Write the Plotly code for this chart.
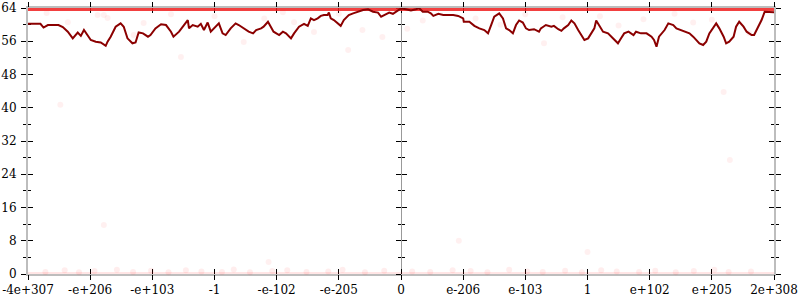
import plotly.graph_objects as go

# ---------------- data ----------------
X_TICKS = [-6, -5, -4, -3, -2, -1, 0, 1, 2, 3, 4, 5, 6]
X_LABELS = ["-4e+307", "-e+206", "-e+103", "-1", "-e-102", "-e-205", "0",
            "e-206", "e-103", "1", "e+102", "e+205", "2e+308"]
Y_TICKS = [0, 8, 16, 24, 32, 40, 48, 56, 64]

LINE_X = [-6.00, -5.80, -5.75, -5.68, -5.51, -5.44, -5.36, -5.28, -5.20, -5.15,
          -5.10, -5.04, -4.99, -4.91, -4.83, -4.75, -4.72, -4.67, -4.59, -4.51,
          -4.46, -4.40, -4.32, -4.27, -4.22, -4.15, -4.07, -4.03, -3.95, -3.86,
          -3.78, -3.70, -3.66, -3.57, -3.49, -3.43, -3.41, -3.35, -3.27, -3.22,
          -3.17, -3.11, -3.06, -2.98, -2.93, -2.87, -2.82, -2.74, -2.66, -2.61,
          -2.53, -2.45, -2.38, -2.33, -2.25, -2.21, -2.14, -2.09, -2.05, -1.96,
          -1.90,
          -1.85, -1.77, -1.72, -1.64, -1.56, -1.50, -1.45, -1.40, -1.34, -1.29,
          -1.24, -1.18, -1.16, -1.13, -1.08, -1.01, -0.97, -0.92, -0.84, -0.77,
          -0.69, -0.61, -0.53, -0.45, -0.37, -0.32, -0.27, -0.19, -0.13, -0.05,
          0.00, 0.08, 0.16, 0.24, 0.29, 0.35, 0.43, 0.48, 0.52, 0.60,
          0.68, 0.76, 0.84, 0.92, 1.00, 1.01, 1.10, 1.18, 1.26, 1.34,
          1.40, 1.45, 1.50, 1.58, 1.64, 1.69, 1.74, 1.80, 1.85, 1.90,
          1.96, 2.01, 2.06, 2.14, 2.22,
          2.25, 2.33, 2.42, 2.46, 2.53, 2.58, 2.62, 2.69, 2.74, 2.79,
          2.85, 2.90, 2.95, 3.01, 3.06, 3.11, 3.14, 3.19, 3.25, 3.33,
          3.38, 3.43, 3.49, 3.54, 3.59, 3.66, 3.74, 3.78, 3.86, 3.95,
          4.03, 4.07, 4.11, 4.15, 4.24, 4.30, 4.38, 4.43, 4.51, 4.59,
          4.64, 4.70, 4.75, 4.80, 4.86, 4.91, 4.96, 5.02, 5.07, 5.12,
          5.19, 5.23, 5.28, 5.35, 5.39, 5.44, 5.51, 5.56, 5.64, 5.68,
          5.75, 5.80, 5.85, 5.91, 6.00]
LINE_Y = [60.2, 60.2, 59.3, 59.9, 59.9, 59.4, 58.3, 56.7, 58.1, 57.3,
          58.7, 57.5, 56.3, 55.9, 55.7, 54.9, 55.9, 57.1, 59.5, 60.3,
          59.5, 56.7, 55.5, 55.7, 58.1, 57.9, 57.1, 57.5, 59.1, 60.1,
          59.9, 58.3, 57.1, 58.3, 59.9, 61.1, 59.1, 59.9, 59.5, 60.2,
          58.7, 60.5, 58.3, 59.5, 60.3, 57.9, 57.5, 59.1, 60.3, 59.9,
          59.1, 58.3, 57.9, 58.7, 59.1, 59.5, 60.7, 59.5, 58.3, 57.5,
          58.3,
          57.9, 56.7, 57.9, 59.5, 60.2, 59.7, 61.5, 61.1, 61.5, 62.1,
          62.3, 62.3, 62.9, 61.5, 61.1, 60.3, 59.7, 61.1, 62.3, 62.7,
          63.1, 63.5, 63.7, 63.1, 62.9, 61.9, 62.3, 62.9, 62.6, 63.5,
          63.9, 63.7, 63.4, 63.7, 64.0, 63.1, 63.1, 62.7, 62.1, 62.6,
          62.3, 62.3, 62.3, 62.1, 61.5, 60.7, 60.7, 59.7, 59.1, 58.7,
          57.9, 59.9, 61.9, 62.7, 61.5, 59.1, 58.7, 57.9, 59.9, 61.0,
          60.5, 59.1, 58.7, 58.9, 58.3,
          59.1, 59.9, 59.5, 59.7, 58.9, 58.5, 59.1, 59.9, 61.0, 60.3,
          58.7, 57.5, 56.3, 56.7, 57.9, 59.1, 61.0, 59.9, 58.3, 57.9,
          57.1, 56.3, 55.5, 56.7, 57.9, 58.3, 57.5, 58.3, 57.9, 57.9,
          57.1, 56.3, 54.7, 57.1, 58.7, 60.3, 59.9, 59.1, 58.7, 58.3,
          57.9, 57.1, 56.3, 55.5, 55.1, 55.9, 57.9, 59.1, 60.3, 59.1,
          57.1, 55.5, 55.9, 57.1, 59.5, 60.7, 59.5, 58.3, 57.5, 57.5,
          59.5, 61.1, 63.1, 63.1, 63.0]

# faint sample points (errors of individual inputs)
DOT_X = [-4.88, -4.78, -4.72, -5.36, -4.14, -3.54, -2.53, -1.72, -1.40, -5.48,
         -4.78, 5.19, 5.29, 0.93, 3.00, -2.13, -0.62, -0.85, 0.10, 0.35,
         1.20, 2.00, 2.60, 3.20, 3.90, 4.40, 5.00, 5.60, -5.70, -3.00,
         -2.20, -1.00, -3.70, 1.60, 4.70, -0.30, 2.30, -4.30, 3.50, -1.90]
DOT_Y = [62.3, 62.3, 61.6, 60.6, 60.4, 52.2, 55.8, 60.6, 58.2, 40.7,
         11.8, 43.8, 27.4, 8.0, 5.3, 2.9, 58.7, 53.9, 59.0, 61.0,
         61.5, 62.5, 61.8, 62.0, 61.3, 62.6, 61.2, 58.0, 62.8, 62.0,
         61.5, 62.6, 62.5, 60.0, 60.5, 57.0, 55.5, 57.5, 59.8, 63.0]
ZERO_X = [-5.72, -5.41, -5.18, -4.93, -4.57, -4.31, -4.02, -3.74, -3.46, -3.21,
          -2.88, -2.69, -2.43, -2.07, -1.83, -1.52, -1.17, -0.94, -0.58, -0.27,
          0.18, 0.47, 0.83, 1.12, 1.39, 1.74, 2.03, 2.28, 2.64, 2.91,
          3.22, 3.47, 3.83, 4.09, 4.42, 4.71, 5.04, 5.27, 5.63]
ZERO_Y = [0.5, 0.9, 0.4, 0.7, 1.0, 0.5, 0.8, 0.4, 0.9, 0.6,
          0.5, 1.1, 0.4, 0.7, 0.9, 0.5, 0.6, 1.0, 0.4, 0.8,
          0.6, 0.5, 0.9, 0.7, 0.4, 1.0, 0.6, 0.5, 0.8, 0.4,
          0.9, 0.6, 0.5, 0.8, 0.4, 0.7, 1.0, 0.5, 0.6]
BAND_X = [-6, 6]
TOP_BAND_Y = [64, 64]
ZERO_BAND_Y = [0, 0]

# ---------------- figure ----------------
FONT = dict(family="DejaVu Serif", size=12, color="black")
AXIS_GRAY = "#bdbdbd"

fig = go.Figure()

# empty carriers so the overlay axes are drawn
fig.add_trace(go.Scatter(x=[None], y=[None], xaxis="x2", yaxis="y2",
                         showlegend=False, hoverinfo="skip"))
fig.add_trace(go.Scatter(x=[None], y=[None], xaxis="x", yaxis="y3",
                         showlegend=False, hoverinfo="skip"))
fig.add_trace(go.Scatter(x=[None], y=[None], xaxis="x", yaxis="y4",
                         showlegend=False, hoverinfo="skip"))

fig.add_trace(go.Scatter(x=BAND_X, y=ZERO_BAND_Y, mode="lines",
                         line=dict(color="rgba(255,0,0,0.10)", width=4),
                         showlegend=False, hoverinfo="skip"))
fig.add_trace(go.Scatter(x=ZERO_X, y=ZERO_Y, mode="markers",
                         marker=dict(color="rgba(255,0,0,0.07)", size=6),
                         cliponaxis=False, showlegend=False, hoverinfo="skip"))
fig.add_trace(go.Scatter(x=DOT_X, y=DOT_Y, mode="markers",
                         marker=dict(color="rgba(255,0,0,0.06)", size=6),
                         showlegend=False, hoverinfo="skip"))
fig.add_trace(go.Scatter(x=BAND_X, y=TOP_BAND_Y, mode="lines",
                         line=dict(color="rgba(240,30,30,0.85)", width=6),
                         showlegend=False, hoverinfo="skip"))
fig.add_trace(go.Scatter(x=LINE_X, y=LINE_Y, mode="lines",
                         line=dict(color="#8b0000", width=2),
                         showlegend=False, hoverinfo="skip"))

common_x = dict(range=[-6, 6], tickvals=X_TICKS, showgrid=False, zeroline=False,
                tickcolor="black", tickwidth=1, ticklen=5, layer="below traces",
                automargin=False)
common_y = dict(range=[0, 64], tickvals=Y_TICKS, showgrid=False, zeroline=False,
                tickcolor="black", tickwidth=1, ticklen=5, layer="below traces",
                automargin=False)
minor_out = dict(ticks="outside", ticklen=3, dtick=4, tick0=0,
                 tickcolor="black", showgrid=False)
minor_in = dict(ticks="inside", ticklen=3, dtick=4, tick0=0,
                tickcolor="black", showgrid=False)

fig.update_layout(
    width=800, height=300,
    margin=dict(l=28, r=26, t=8, b=26, pad=0, autoexpand=False),
    paper_bgcolor="white", plot_bgcolor="white",
    font=FONT,
    xaxis=dict(**common_x, ticktext=X_LABELS, ticks="outside", mirror="ticks",
               showline=False, tickfont=FONT),
    xaxis2=dict(**common_x, overlaying="x", anchor="y", ticks="inside",
                mirror="ticks", showline=True, linecolor=AXIS_GRAY, linewidth=2,
                showticklabels=False),
    yaxis=dict(**common_y, ticks="outside", mirror="ticks", showline=True,
               linecolor=AXIS_GRAY, linewidth=2, minor=minor_out,
               tickfont=FONT, ticklabelstandoff=2),
    yaxis2=dict(**common_y, overlaying="y", anchor="x2", ticks="inside",
                mirror="ticks", showline=False, showticklabels=False,
                minor=minor_in),
    yaxis3=dict(**common_y, overlaying="y", anchor="free", position=0.5,
                ticks="outside", showline=True, linecolor="#999999",
                linewidth=1, showticklabels=False, minor=minor_out),
    yaxis4=dict(**common_y, overlaying="y", anchor="free", position=0.5,
                ticks="inside", showline=False, showticklabels=False,
                minor=minor_in),
)

fig.write_html("out.html")
